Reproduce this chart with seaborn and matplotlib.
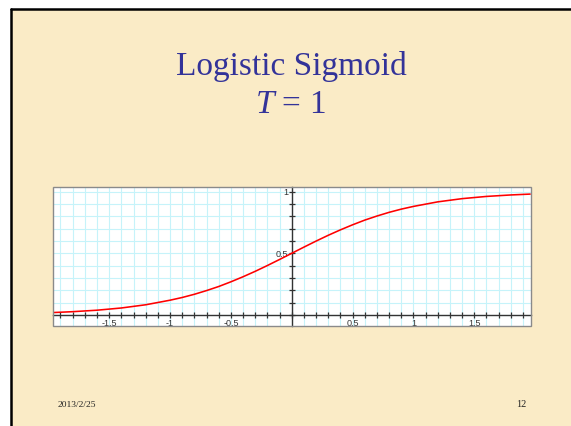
import matplotlib
matplotlib.use("Agg")
import matplotlib.pyplot as plt
import matplotlib.ticker as mticker
from matplotlib.patches import Rectangle
import numpy as np
import pandas as pd
import seaborn as sns

# ---- data ----
x_vals = [-1.96, -1.8, -1.6, -1.4, -1.2, -1.0, -0.9, -0.8, -0.7, -0.6, -0.5, -0.4, -0.3,
          -0.2, -0.1, 0.0, 0.1, 0.2, 0.3, 0.4, 0.5, 0.6, 0.7, 0.8, 0.9, 1.0, 1.2, 1.4,
          1.6, 1.8, 1.96]
y_vals = [0.020, 0.027, 0.039, 0.057, 0.083, 0.120, 0.142, 0.168, 0.198, 0.231, 0.269,
          0.310, 0.354, 0.401, 0.450, 0.500, 0.550, 0.599, 0.646, 0.690, 0.731, 0.769,
          0.802, 0.832, 0.858, 0.880, 0.917, 0.943, 0.961, 0.973, 0.980]
title_line1 = "Logistic Sigmoid"
title_line2 = "$T$ = 1"
footer_date = "2013/2/25"
footer_page = "12"

df = pd.DataFrame({"x": x_vals, "y": y_vals})

sns.set_style("white")
plt.rcParams["font.family"] = ["Liberation Sans", "DejaVu Sans"]
plt.rcParams["mathtext.fontset"] = "custom"
plt.rcParams["mathtext.it"] = "Liberation Serif:italic"
plt.rcParams["mathtext.rm"] = "Liberation Serif"

W, H = 571, 426
fig = plt.figure(figsize=(W / 100, H / 100), dpi=100, facecolor="white")

def fx(px):
    return px / W

def fy(py):
    return 1 - py / H

# slide background
slide_bg = "#FAEBC6"
fig.patches.append(Rectangle((fx(11), -0.05), 1.1, fy(9) + 0.05, transform=fig.transFigure,
                             facecolor=slide_bg, edgecolor="none", zorder=0))
fig.add_artist(plt.Line2D([fx(11), 1.01], [fy(9), fy(9)], transform=fig.transFigure,
                          color="black", lw=1.8))
fig.add_artist(plt.Line2D([fx(11), fx(11)], [-0.01, fy(9)], transform=fig.transFigure,
                          color="black", lw=1.8))

# titles
title_color = "#333399"
fig.text(fx(291.5), fy(75), title_line1, ha="center", va="baseline", fontsize=24,
         family="Liberation Serif", color=title_color)
fig.text(fx(290), fy(113), title_line2, ha="center", va="baseline", fontsize=24,
         family="Liberation Serif", color=title_color)

# footer
fig.text(fx(58), fy(407), footer_date, ha="left", va="baseline", fontsize=6.8,
         family="Liberation Serif", color="#222222")
fig.text(fx(526), fy(407), footer_page, ha="right", va="baseline", fontsize=7.5,
         family="Liberation Serif", color="#222222")

# axes
left, right, top, bottom = 52.7, 530.7, 187.3, 326.0
ax = fig.add_axes([fx(left), fy(bottom), fx(right) - fx(left), fy(top) - fy(bottom)])
ax.set_zorder(5)
ax.set_facecolor("white")

sns.lineplot(data=df, x="x", y="y", ax=ax, color="#FF0000", linewidth=1.15, zorder=5)

ax.set_xlim(-1.964, 1.964)
ax.set_ylim(-0.089, 1.035)
ax.set_xlabel("")
ax.set_ylabel("")

ax.xaxis.set_major_locator(mticker.MultipleLocator(0.1))
ax.yaxis.set_major_locator(mticker.MultipleLocator(0.1))

def fmt(v, pos):
    r = round(v * 2)
    if abs(v * 2 - r) < 1e-6 and r != 0:
        return f"{v:g}"
    return ""

ax.xaxis.set_major_formatter(mticker.FuncFormatter(fmt))
ax.yaxis.set_major_formatter(mticker.FuncFormatter(fmt))

ax.grid(True, color="#C6F3FA", linewidth=0.8, zorder=0)
ax.set_axisbelow(True)

for s in ["top", "right"]:
    ax.spines[s].set_visible(False)
ax.spines["left"].set_position(("data", 0))
ax.spines["bottom"].set_position(("data", 0))
for s in ["left", "bottom"]:
    ax.spines[s].set_color("#333333")
    ax.spines[s].set_linewidth(1.0)

ax.tick_params(axis="both", which="major", bottom=True, left=True, direction="inout",
               length=4.5, width=0.9, color="#333333",
               labelsize=6.5, labelcolor="#333333", pad=0.5)

# frame
ax.add_patch(Rectangle((0, 0), 1, 1, transform=ax.transAxes, fill=False,
                       edgecolor="#8A8A8A", linewidth=1.0, zorder=10, clip_on=False))

fig.savefig("out.png", dpi=100, facecolor=fig.get_facecolor())
